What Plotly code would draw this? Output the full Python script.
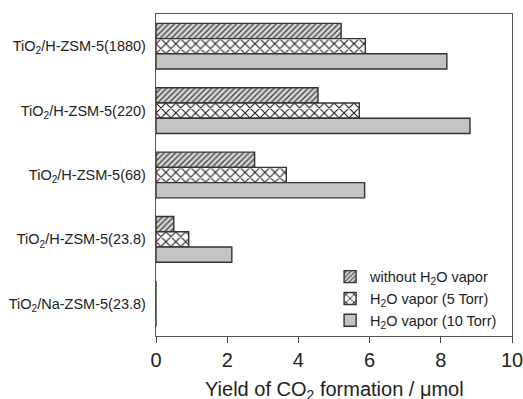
import plotly.graph_objects as go

categories = ["TiO2/H-ZSM-5(1880)", "TiO2/H-ZSM-5(220)", "TiO2/H-ZSM-5(68)",
              "TiO2/H-ZSM-5(23.8)", "TiO2/Na-ZSM-5(23.8)"]
category_labels = ["TiO<sub>2</sub>/H-ZSM-5(1880)", "TiO<sub>2</sub>/H-ZSM-5(220)",
                   "TiO<sub>2</sub>/H-ZSM-5(68)", "TiO<sub>2</sub>/H-ZSM-5(23.8)",
                   "TiO<sub>2</sub>/Na-ZSM-5(23.8)"]
without_h2o = [5.20, 4.55, 2.77, 0.50, 0.0]
h2o_5torr = [5.88, 5.71, 3.66, 0.92, 0.0]
h2o_10torr = [8.17, 8.82, 5.86, 2.13, 0.0]
x_ticks = [0, 2, 4, 6, 8, 10]
x_title = "Yield of CO<sub>2</sub> formation / μmol"

fig = go.Figure()
line = dict(color="#333333", width=1.4)
fig.add_trace(go.Bar(
    y=categories, x=without_h2o, orientation="h",
    name="without H<sub>2</sub>O vapor",
    marker=dict(color="#d0d0d0", line=line,
                pattern=dict(shape="/", fgcolor="#444444", bgcolor="#d8d8d8",
                             size=4, solidity=0.35, fillmode="replace")),
))
fig.add_trace(go.Bar(
    y=categories, x=h2o_5torr, orientation="h",
    name="H<sub>2</sub>O vapor (5 Torr)",
    marker=dict(color="white", line=line,
                pattern=dict(shape="x", fgcolor="#222222", bgcolor="white",
                             size=7, solidity=0.3, fillmode="replace")),
))
fig.add_trace(go.Bar(
    y=categories, x=h2o_10torr, orientation="h",
    name="H<sub>2</sub>O vapor (10 Torr)",
    marker=dict(color="#c4c4c4", line=line),
))

fig.update_layout(
    width=523, height=399,
    margin=dict(l=156, r=11, t=14, b=63),
    paper_bgcolor="white", plot_bgcolor="white",
    barmode="group", bargap=0.29, bargroupgap=0,
    font=dict(family="Liberation Sans, Arial, sans-serif", color="#222222"),
    showlegend=True,
    legend=dict(x=0.489, y=0.234, xanchor="left", yanchor="top",
                bgcolor="rgba(0,0,0,0)", font=dict(size=14.5),
                traceorder="normal", itemwidth=30, tracegroupgap=0),
    xaxis=dict(range=[0, 10], tickvals=x_ticks, ticks="outside", ticklen=6,
               tickcolor="#444444", showline=True, linecolor="#555555", linewidth=1.3,
               mirror=True, showgrid=False, zeroline=False, automargin=False,
               ticklabeloverflow="allow",
               tickfont=dict(size=20)),
    yaxis=dict(autorange="reversed", tickvals=categories, ticktext=category_labels,
               ticks="", showline=True, linecolor="#555555", linewidth=1.3,
               mirror=True, showgrid=False, zeroline=False, automargin=False,
               tickfont=dict(size=14.5), ticklabelstandoff=6),
    annotations=[dict(text=x_title, xref="paper", yref="paper", x=0.5, y=-0.124,
                      xanchor="center", yanchor="top", showarrow=False,
                      font=dict(size=20))],
)

fig.write_html("out.html", config={"displayModeBar": False},
               post_script="document.body.style.margin='0';document.body.style.overflow='hidden';")
